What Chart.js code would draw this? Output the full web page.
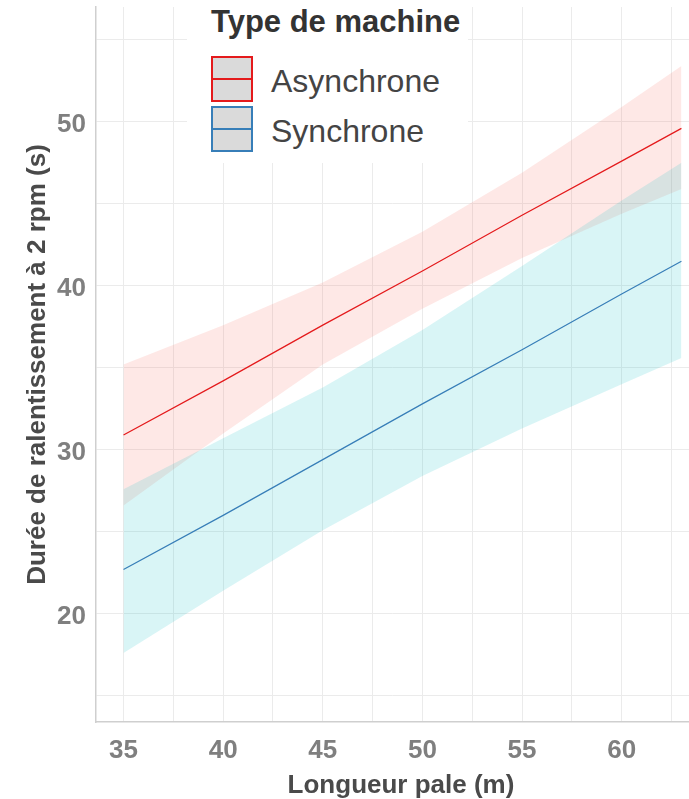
<!DOCTYPE html>
<html>
<head>
<meta charset="utf-8">
<script src="https://cdn.jsdelivr.net/npm/chart.js@4.4.1/dist/chart.umd.min.js"></script>
<style>
  html, body { margin: 0; padding: 0; background: #ffffff; }
  #wrap { position: relative; width: 689px; height: 799px; overflow: hidden;
          font-family: "Liberation Sans", Arial, sans-serif; }
  #c { position: absolute; left: 0; top: 0; }
  #xtitle { position: absolute; left: 201px; width: 400px; top: 771px; text-align: center;
            font-size: 26px; line-height: 26px; font-weight: bold; color: #4a4a4a; white-space: nowrap; }
  #legend { position: absolute; left: 187px; top: 0; width: 281px; height: 163px; background: #ffffff; }
  #legend .title { position: absolute; left: 24px; top: 6px; font-size: 31px; line-height: 31px;
                   font-weight: bold; color: #333333; white-space: nowrap; }
  #legend .key { position: absolute; left: 24px; width: 42px; height: 46px; box-sizing: border-box;
                 background: #dadada; border: 2px solid; }
  #legend .key .mid { position: absolute; left: 0; right: 0; top: 20px; height: 1.5px; }
  #legend .lab { position: absolute; left: 84px; font-size: 32px; line-height: 32px; color: #444444;
                 white-space: nowrap; }
</style>
</head>
<body>
<div id="wrap">
  <canvas id="c" width="689" height="799"></canvas>
  <div id="xtitle"></div>
  <div id="legend">
    <div class="title" id="legTitle"></div>
    <div class="key" id="k0" style="top:56px;"><div class="mid" id="m0"></div></div>
    <div class="lab" id="l0" style="top:65px;"></div>
    <div class="key" id="k1" style="top:106px;"><div class="mid" id="m1"></div></div>
    <div class="lab" id="l1" style="top:115px;"></div>
  </div>
</div>
<script>
// ---- data ----
const legendTitle = "Type de machine";
const seriesNames = ["Asynchrone", "Synchrone"];
const xTitle = "Longueur pale (m)";
const yTitle = "Durée de ralentissement à 2 rpm (s)";

const bladeLength = [35, 40, 45, 50, 55, 60, 63];

const asyncFit   = [30.9, 34.2, 37.6, 40.9, 44.3, 47.6, 49.6];
const asyncUpper = [35.2, 37.6, 40.2, 43.3, 46.9, 50.9, 53.4];
const asyncLower = [26.6, 31.0, 35.2, 38.6, 41.7, 44.4, 45.9];

const syncFit    = [22.7, 26.0, 29.4, 32.8, 36.1, 39.5, 41.5];
const syncUpper  = [27.6, 30.7, 33.8, 37.3, 41.2, 45.2, 47.5];
const syncLower  = [17.6, 21.4, 25.1, 28.4, 31.3, 34.0, 35.6];

const xTickValues = [35, 37.5, 40, 42.5, 45, 47.5, 50, 52.5, 55, 57.5, 60, 62.5];
const xTickLabels = [35, 40, 45, 50, 55, 60];
const yTickValues = [15, 20, 25, 30, 35, 40, 45, 50, 55];
const yTickLabels = [20, 30, 40, 50];

// ---- styling ----
const FONT = '"Liberation Sans", Arial, sans-serif';
const lineColors = ["rgb(228,26,28)", "rgb(55,126,184)"];
const bandColors = ["rgba(248,118,109,0.17)", "rgba(0,191,196,0.15)"];

const pts = (ys) => bladeLength.map((x, i) => ({ x: x, y: ys[i] }));

// HTML text: legend and x-axis title (ggplot centres it on the uncropped panel)
document.getElementById('xtitle').textContent = xTitle;
document.getElementById('legTitle').textContent = legendTitle;
[0, 1].forEach(i => {
  document.getElementById('k' + i).style.borderColor = lineColors[i];
  document.getElementById('m' + i).style.background = lineColors[i];
  document.getElementById('l' + i).textContent = seriesNames[i];
});

const bandStyle = { pointRadius: 0, borderWidth: 0, borderColor: 'rgba(0,0,0,0)', tension: 0 };

const datasets = [
  { label: seriesNames[0], data: pts(asyncFit), borderColor: lineColors[0], borderWidth: 1.2,
    pointRadius: 0, fill: false, tension: 0 },
  { label: seriesNames[1], data: pts(syncFit), borderColor: lineColors[1], borderWidth: 1.2,
    pointRadius: 0, fill: false, tension: 0 },
  Object.assign({ label: 'syncUpper', data: pts(syncUpper), fill: '+1', backgroundColor: bandColors[1] }, bandStyle),
  Object.assign({ label: 'syncLower', data: pts(syncLower), fill: false }, bandStyle),
  Object.assign({ label: 'asyncUpper', data: pts(asyncUpper), fill: '+1', backgroundColor: bandColors[0] }, bandStyle),
  Object.assign({ label: 'asyncLower', data: pts(asyncLower), fill: false }, bandStyle)
];

new Chart(document.getElementById('c'), {
  type: 'line',
  data: { datasets: datasets },
  options: {
    responsive: false,
    devicePixelRatio: 1,
    animation: false,
    layout: { padding: { top: 7, left: 0, right: 0, bottom: 0 } },
    plugins: { legend: { display: false }, tooltip: { enabled: false } },
    scales: {
      x: {
        type: 'linear', min: 33.62, max: 63.38,
        afterBuildTicks: (s) => { s.ticks = xTickValues.map(v => ({ value: v })); },
        afterFit: (s) => { s.height = 77; s.paddingLeft = 0; s.paddingRight = 0; s.paddingTop = 0; s.paddingBottom = 0; },
        grid: { color: '#ebebeb', lineWidth: 1, drawTicks: false },
        border: { display: true, color: '#cfcfcf', width: 1.5 },
        ticks: {
          padding: 13, color: '#7f7f7f', maxRotation: 0, autoSkip: false,
          font: { family: FONT, size: 26, weight: 'bold' },
          callback: (v) => xTickLabels.includes(v) ? String(v) : ''
        },
        title: { display: false }
      },
      y: {
        type: 'linear', min: 13.4, max: 57.0,
        afterBuildTicks: (s) => { s.ticks = yTickValues.map(v => ({ value: v })); },
        afterFit: (s) => { s.width = 96; s.paddingLeft = 0; s.paddingRight = 0; s.paddingTop = 0; s.paddingBottom = 0; },
        grid: { color: '#ebebeb', lineWidth: 1, drawTicks: false },
        border: { display: true, color: '#cfcfcf', width: 1.5 },
        ticks: {
          padding: 10, color: '#7f7f7f', labelOffset: 3, autoSkip: false,
          font: { family: FONT, size: 26, weight: 'bold' },
          callback: (v) => yTickLabels.includes(v) ? String(v) : ''
        },
        title: { display: true, text: yTitle, color: '#4a4a4a',
                 font: { family: FONT, size: 26, weight: 'bold' }, padding: { top: 22, bottom: 0 } }
      }
    }
  }
});
</script>
</body>
</html>
